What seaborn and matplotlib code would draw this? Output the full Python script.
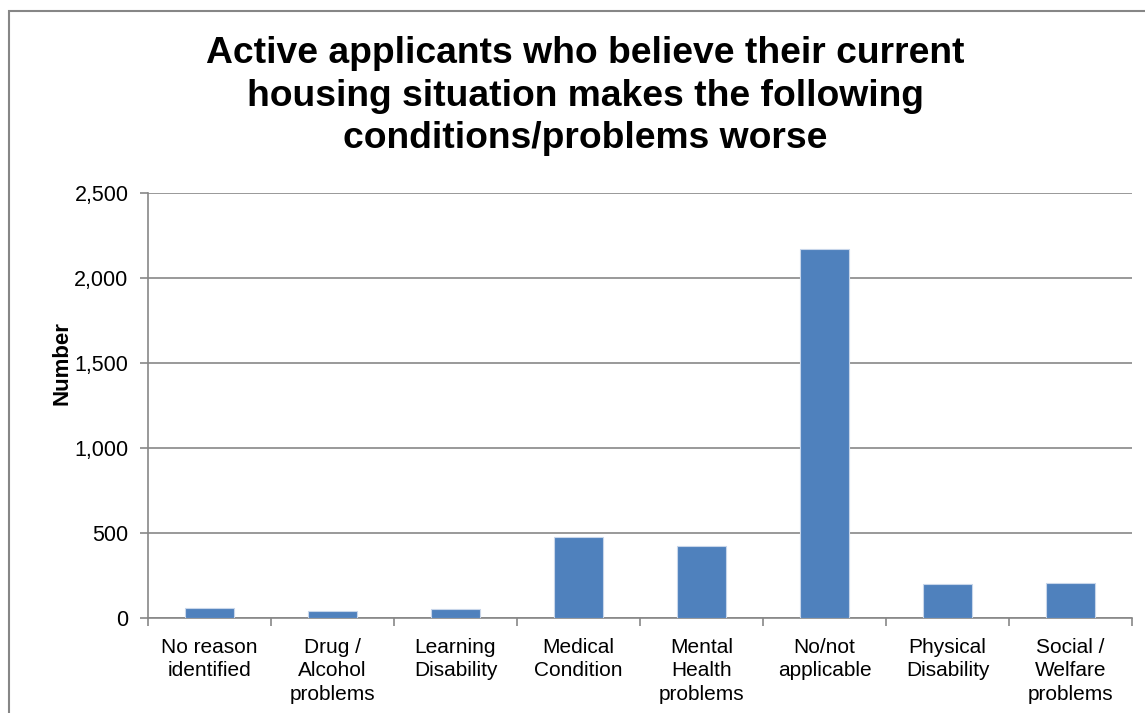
import pandas as pd
import matplotlib.pyplot as plt
import matplotlib.patches as patches
from matplotlib.ticker import FuncFormatter, FixedLocator
import seaborn as sns

# Datos
categorias = ['No reason\nidentified', 'Drug /\nAlcohol\nproblems', 'Learning\nDisability',
              'Medical\nCondition', 'Mental\nHealth\nproblems', 'No/not\napplicable',
              'Physical\nDisability', 'Social /\nWelfare\nproblems']
valores = [61, 43, 55, 476, 425, 2173, 201, 206]
titulo = 'Active applicants who believe their current\nhousing situation makes the following\nconditions/problems worse'

datos = pd.DataFrame({'Categoria': categorias, 'Numero': valores})

sns.set_style('white')
plt.rcParams['font.family'] = ['Liberation Sans', 'DejaVu Sans']
plt.rcParams['text.color'] = 'black'
plt.rcParams['xtick.color'] = 'black'
plt.rcParams['ytick.color'] = 'black'
plt.rcParams['axes.labelcolor'] = 'black'

fig = plt.figure(figsize=(11.45, 7.13), dpi=100)
ax = fig.add_axes([148 / 1145, 95 / 713, (1132 - 148) / 1145, (618 - 193) / 713])

sns.barplot(data=datos, x='Categoria', y='Numero', color='#4F81BD', saturation=1,
            width=0.4, edgecolor='#C8D6EA', linewidth=0.8, ax=ax, zorder=3)

ax.set_ylim(0, 2500)
ax.set_xlim(-0.5, 7.5)
ax.set_yticks([0, 500, 1000, 1500, 2000, 2500])
ax.yaxis.set_major_formatter(FuncFormatter(lambda v, p: f'{int(v):,}'))
ax.grid(axis='y', color='#878787', linewidth=1.2, zorder=0)
ax.set_axisbelow(True)

for lado in ['top', 'right']:
    ax.spines[lado].set_visible(False)
for lado in ['left', 'bottom']:
    ax.spines[lado].set_color('#878787')
    ax.spines[lado].set_linewidth(1.2)

ax.tick_params(axis='y', which='major', left=True, length=6, width=1.2, color='#878787',
               labelcolor='black', labelsize=15.5, pad=8)
ax.tick_params(axis='x', which='major', bottom=False, labelsize=15, labelcolor='black', pad=11)
ax.xaxis.set_minor_locator(FixedLocator([i - 0.5 for i in range(len(categorias) + 1)]))
ax.tick_params(axis='x', which='minor', bottom=True, length=6, width=1.2, color='#878787')
for etiqueta in ax.get_xticklabels():
    etiqueta.set_linespacing(1.28)

ax.set_xlabel('')
ax.set_ylabel('Number', fontsize=16, fontweight='bold')
ax.yaxis.set_label_coords(-0.077, 0.6)

fig.text(585 / 1145, 1 - 96 / 713, titulo, ha='center', va='center', fontsize=26.8,
         fontweight='bold', linespacing=1.27)

# Marco del grafico
marco = patches.Rectangle((9 / 1145, -0.1), 1.2, 1.1 - 11 / 713, transform=fig.transFigure,
                          fill=False, edgecolor='#868686', linewidth=1.5)
fig.patches.append(marco)

fig.savefig('out.png', dpi=100)
